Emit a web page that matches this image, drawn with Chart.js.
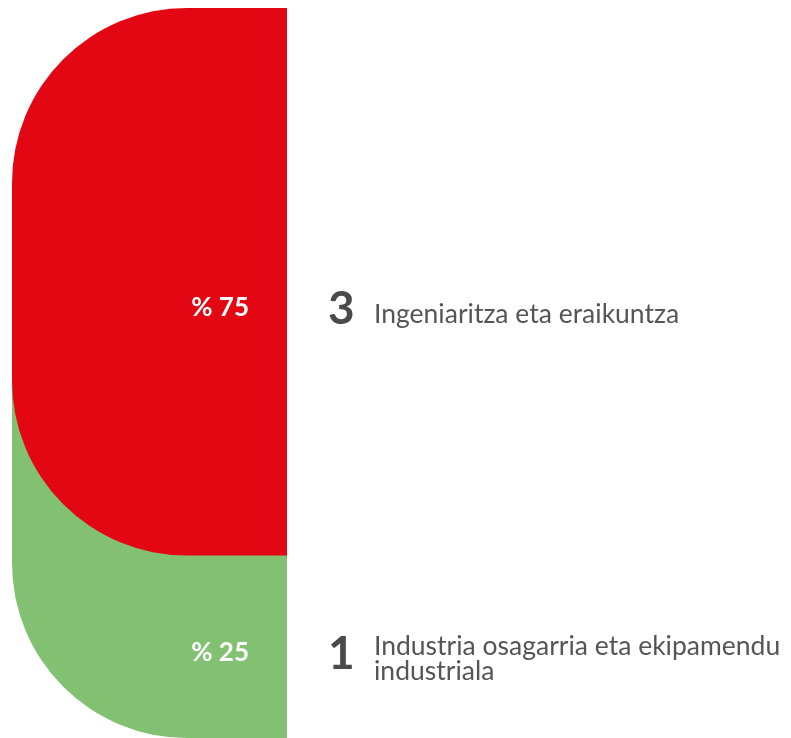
<!DOCTYPE html>
<html>
<head>
<meta charset="utf-8">
<script src="https://cdn.jsdelivr.net/npm/chart.js@4.4.1/dist/chart.umd.min.js"></script>
<style>
  html, body { margin: 0; background: #fff; overflow: hidden; }
  #wrap { width: 791px; height: 738px; position: relative; }
</style>
</head>
<body>
<div id="wrap"><canvas id="c"></canvas></div>
<script>
// one stacked column, share per field + number of items beside it
const CATEGORIES = ["Ingeniaritza eta eraikuntza", "Industria osagarria eta ekipamendu industriala"];
const COUNTS = [3, 1];
const SHARES = [75, 25];
const COLORS = ["#e30613", "#82c171"];

const R = 175;            // big left corner radius (more than chart.js lets a bar have)
const NUDGE = [26, 6];    // labels sit a bit below the segment middle in the source
const FONT = "Lato, 'Noto Sans', sans-serif";

const seg = (chart, i) => {
  const el = chart.getDatasetMeta(i).data[0];
  return {
    l: el.x - el.width / 2, r: el.x + el.width / 2,
    t: Math.min(el.y, el.base), b: Math.max(el.y, el.base),
  };
};

// draw the rounded segments ourselves; each lower one tucks up under the previous one
const shapes = {
  id: "shapes",
  beforeDatasetsDraw(chart) {
    const { ctx } = chart;
    ctx.save();
    for (let i = SHARES.length - 1; i >= 0; i--) {
      const s = seg(chart, i);
      const top = i > 0 ? seg(chart, i - 1).b - R : s.t;
      ctx.beginPath();
      ctx.roundRect(s.l, top, s.r - s.l, s.b - top, [i === 0 ? R : 0, 0, 0, R]);
      ctx.fillStyle = COLORS[i];
      ctx.fill();
    }
    ctx.restore();
    return false;
  },
  afterDraw(chart) {
    const { ctx } = chart;
    ctx.save();
    SHARES.forEach((v, i) => {
      const s = seg(chart, i);
      const cy = (s.t + s.b) / 2 + NUDGE[i];

      ctx.fillStyle = "#fff";
      ctx.font = `bold 26px ${FONT}`;
      ctx.textAlign = "right";
      ctx.textBaseline = "middle";
      ctx.fillText("% " + v, s.r - 38, cy);

      ctx.textBaseline = "alphabetic";
      ctx.textAlign = "left";
      ctx.fillStyle = "#4a4a4a";
      ctx.font = `bold 46px ${FONT}`;
      ctx.fillText(String(COUNTS[i]), s.r + 41, cy + 16);

      // wrap the category name to what is left of the canvas
      ctx.font = `26.5px ${FONT}`;
      ctx.fillStyle = "#555";
      const x = s.r + 87, maxW = chart.width - x - 2;
      const lines = [];
      let cur = "";
      CATEGORIES[i].split(" ").forEach((w) => {
        const t = cur ? cur + " " + w : w;
        if (cur && ctx.measureText(t).width > maxW) { lines.push(cur); cur = w; } else cur = t;
      });
      lines.push(cur);
      lines.forEach((ln, k) => {
        ctx.fillText(ln, x, cy + 15 + (k - (lines.length - 1) / 2) * 25);
      });
    });
    ctx.restore();
  },
};

new Chart(document.getElementById("c"), {
  type: "bar",
  data: {
    labels: [""],
    datasets: SHARES.map((v, i) => ({
      label: CATEGORIES[i], data: [v], backgroundColor: COLORS[i],
      barPercentage: 1, categoryPercentage: 1,
    })),
  },
  options: {
    responsive: true, maintainAspectRatio: false, animation: false,
    layout: { padding: { top: 8, left: 12, right: 504, bottom: 0 } },
    plugins: { legend: { display: false }, tooltip: { enabled: false } },
    scales: {
      x: { display: false, stacked: true },
      y: { display: false, stacked: true, reverse: true, min: 0, max: 100 },
    },
  },
  plugins: [shapes],
});
</script>
</body>
</html>
